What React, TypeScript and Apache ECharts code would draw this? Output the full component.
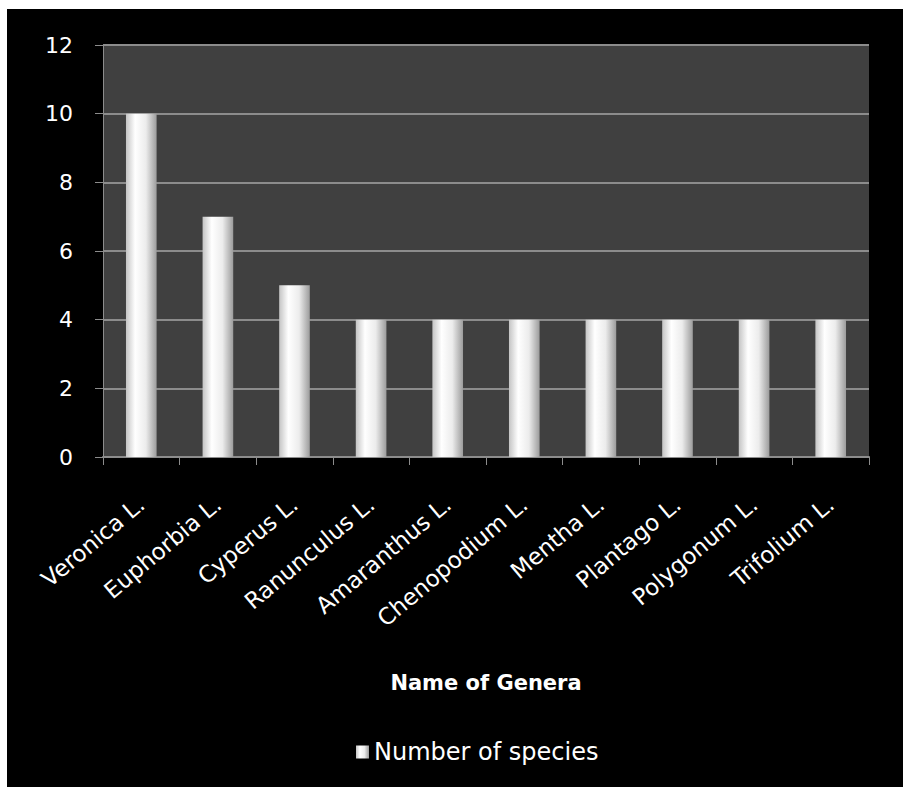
import React, { useEffect, useRef } from "react";
import * as echarts from "echarts";

const categories = [
  "Veronica L.",
  "Euphorbia L.",
  "Cyperus L.",
  "Ranunculus L.",
  "Amaranthus L.",
  "Chenopodium L.",
  "Mentha L.",
  "Plantago L.",
  "Polygonum L.",
  "Trifolium L.",
];
const speciesCounts = [10, 7, 5, 4, 4, 4, 4, 4, 4, 4];
const seriesName = "Number of species";
const xAxisTitle = "Name of Genera";

const FONT = "'DejaVu Sans', 'Open Sans', sans-serif";

export default function App() {
  const ref = useRef<HTMLDivElement>(null);
  useEffect(() => {
    document.body.style.margin = "0";
    document.body.style.overflow = "hidden";
    const chart = echarts.init(ref.current!, null, { renderer: "svg" });
    const barGrad = new echarts.graphic.LinearGradient(0, 0, 1, 0, [
      { offset: 0, color: "#c4c4c4" },
      { offset: 0.3, color: "#ffffff" },
      { offset: 0.65, color: "#ececec" },
      { offset: 1, color: "#9c9c9c" },
    ]);
    chart.setOption({
      animation: false,
      backgroundColor: "#000000",
      grid: {
        left: 96,
        right: 34,
        top: 36,
        bottom: 330,
        show: true,
        backgroundColor: "#404040",
        borderWidth: 0,
      },
      legend: {
        left: 344,
        top: 726,
        itemWidth: 13,
        itemHeight: 13,
        itemGap: 6,
        icon: "rect",
        textStyle: { color: "#ffffff", fontSize: 24, fontFamily: FONT },
        data: [seriesName],
      },
      xAxis: {
        type: "category",
        data: categories,
        name: xAxisTitle,
        nameLocation: "middle",
        nameGap: 215,
        nameTextStyle: {
          color: "#ffffff",
          fontSize: 21,
          fontWeight: "bold",
          fontFamily: FONT,
        },
        axisLine: { show: true, lineStyle: { color: "#8c8c8c", width: 2 } },
        axisTick: {
          show: true,
          length: 8,
          alignWithLabel: false,
          lineStyle: { color: "#8c8c8c", width: 1 },
        },
        axisLabel: {
          rotate: 40,
          interval: 0,
          color: "#ffffff",
          fontSize: 23,
          fontFamily: FONT,
          margin: 44,
        },
        splitLine: { show: false },
      },
      yAxis: {
        type: "value",
        min: 0,
        max: 12,
        interval: 2,
        axisLine: { show: true, lineStyle: { color: "#8c8c8c", width: 1 } },
        axisTick: { show: true, length: 8, lineStyle: { color: "#8c8c8c" } },
        axisLabel: {
          color: "#ffffff",
          fontSize: 22,
          fontFamily: FONT,
          margin: 30,
        },
        splitLine: { show: true, lineStyle: { color: "#8c8c8c", width: 2 } },
      },
      series: [
        {
          name: seriesName,
          type: "bar",
          data: speciesCounts,
          barWidth: "40%",
          itemStyle: { color: barGrad },
        },
      ],
    });
    return () => chart.dispose();
  }, []);
  return (
    <div
      style={{
        position: "relative",
        width: 903,
        height: 787,
        background: "#ffffff",
        overflow: "hidden",
      }}
    >
      <div
        ref={ref}
        style={{ position: "absolute", left: 7, top: 9, width: 896, height: 778 }}
      />
    </div>
  );
}
